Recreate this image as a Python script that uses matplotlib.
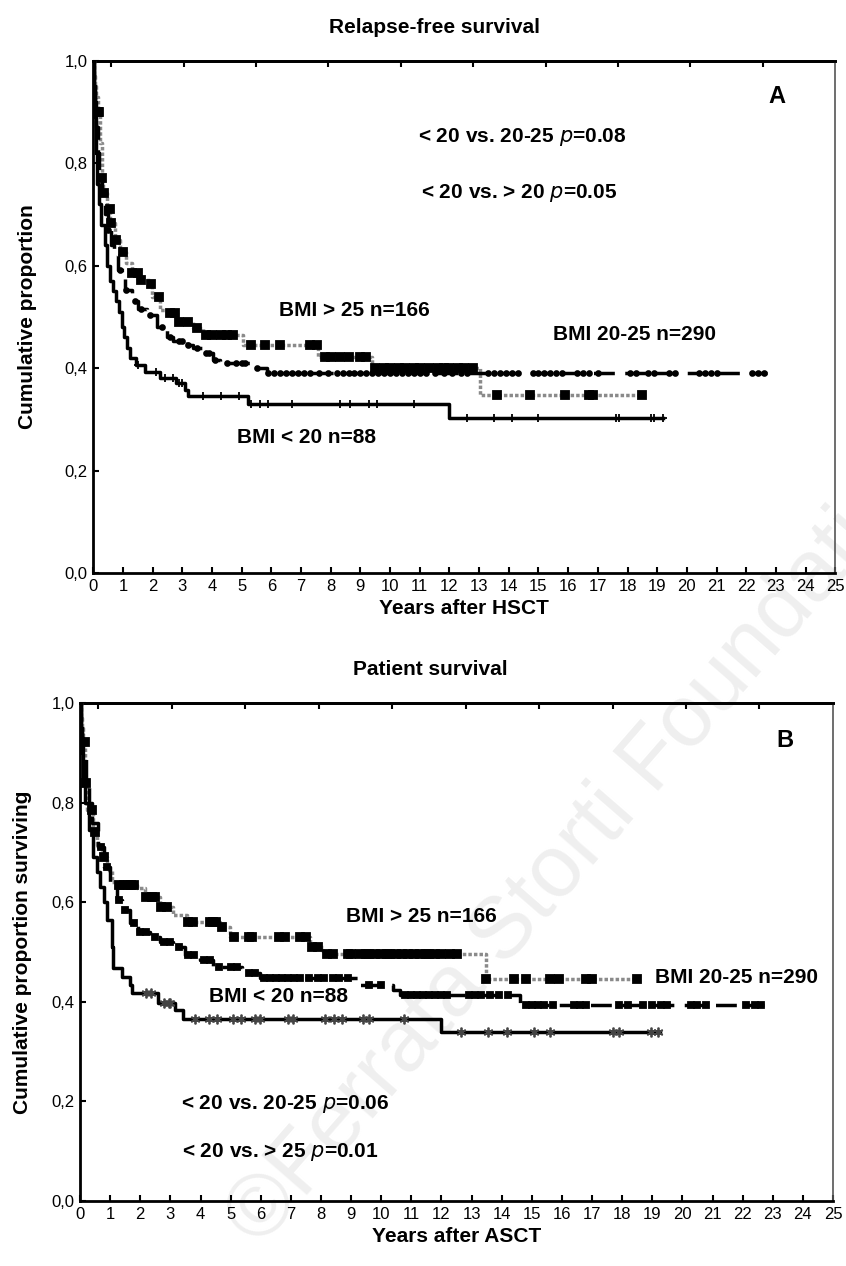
import numpy as np
import matplotlib
matplotlib.use("Agg")
import matplotlib.pyplot as plt

plt.rcParams['font.family'] = ['Liberation Sans', 'DejaVu Sans']

# ----- Relapse-free survival (panel A) -----
rfs_lt20_t = [0, 0.03, 0.06, 0.1, 0.13, 0.2, 0.25, 0.4, 0.45, 0.55, 0.65, 0.75, 0.85, 0.95,
              1.05, 1.15, 1.25, 1.45, 1.75, 2.25, 2.8, 3.1, 3.2, 5.2, 12.0]
rfs_lt20_s = [1.0, 0.95, 0.89, 0.82, 0.76, 0.72, 0.68, 0.64, 0.60, 0.57, 0.55, 0.53, 0.51, 0.48,
              0.46, 0.44, 0.42, 0.405, 0.393, 0.38, 0.37, 0.358, 0.345, 0.329, 0.302]
rfs_lt20_end = 19.2
rfs_lt20_cens = [1.5, 2.1, 2.4, 2.7, 2.9, 3.0, 3.7, 4.3, 4.9, 5.3, 5.6, 5.9, 6.7, 8.3, 8.65,
                 9.3, 9.55, 10.8, 12.6, 13.5, 14.1, 15.0, 17.6, 17.7, 18.8, 18.9, 19.2]

rfs_mid_t = [0, 0.03, 0.06, 0.1, 0.15, 0.2, 0.3, 0.4, 0.5, 0.6, 0.7, 0.84, 1.07, 1.29, 1.5, 1.8,
             2.14, 2.47, 2.7, 3.15, 3.37, 3.71, 4.04, 4.27, 5.28, 5.84]
rfs_mid_s = [1.0, 0.96, 0.92, 0.87, 0.82, 0.78, 0.74, 0.70, 0.67, 0.64, 0.62, 0.591, 0.552, 0.530,
             0.515, 0.504, 0.481, 0.461, 0.452, 0.445, 0.439, 0.429, 0.416, 0.409, 0.400, 0.391]
rfs_mid_end = 22.7
rfs_mid_cens = [0.5, 0.9, 1.1, 1.4, 1.6, 1.9, 2.3, 2.6, 2.9, 3.0, 3.2, 3.5, 3.8, 3.9, 4.1, 4.5,
                4.8, 5.0, 5.1, 5.5, 5.9, 6.1, 6.3, 6.5, 6.7, 6.9, 7.1, 7.3, 7.6, 7.9, 8.2, 8.4,
                8.6, 8.8, 9.0, 9.2, 9.4, 9.6, 9.8, 10.0, 10.2, 10.4, 10.6, 10.8, 11.0, 11.2,
                11.5, 11.8, 12.1, 12.4, 12.6, 13.3, 13.5, 13.7, 13.9, 14.1, 14.3, 14.8, 15.0,
                15.2, 15.4, 15.6, 15.8, 16.3, 16.5, 16.7, 17.0, 18.1, 18.3, 18.7, 18.9, 19.4,
                19.6, 20.4, 20.6, 20.8, 21.0, 22.2, 22.4, 22.6]

rfs_gt25_t = [0, 0.03, 0.06, 0.1, 0.17, 0.22, 0.28, 0.34, 0.45, 0.56, 0.73, 0.9, 1.1, 1.29, 1.52,
              1.91, 1.97, 2.25, 2.58, 2.81, 3.37, 3.71, 5.06, 7.58, 9.38, 13.03]
rfs_gt25_s = [1.0, 0.97, 0.95, 0.93, 0.90, 0.84, 0.77, 0.742, 0.71, 0.683, 0.65, 0.627, 0.605,
              0.585, 0.572, 0.565, 0.539, 0.513, 0.507, 0.490, 0.478, 0.464, 0.445, 0.421, 0.401,
              0.347]
rfs_gt25_end = 18.65
rfs_gt25_cens = [0.17, 0.2, 0.3, 0.35, 0.55, 0.6, 0.75, 1.0, 1.3, 1.5, 1.6, 1.95, 2.2, 2.6, 2.75,
                 2.9, 3.2, 3.5, 3.8, 4.0, 4.3, 4.5, 4.7, 5.3, 5.8, 6.3, 7.3, 7.55, 7.8, 8.0, 8.3,
                 8.6, 9.0, 9.2, 9.5, 9.8, 10.0, 10.3, 10.5, 10.8, 11.0, 11.3, 11.6, 11.8, 12.0,
                 12.3, 12.5, 12.8, 13.6, 14.7, 15.9, 16.7, 16.85, 18.5]

# ----- Patient survival (panel B) -----
os_lt20_t = [0, 0.03, 0.06, 0.1, 0.17, 0.3, 0.44, 0.55, 0.66, 0.78, 0.89, 1.05, 1.11, 1.38, 1.66,
             1.72, 2.6, 3.15, 3.43, 12.0]
os_lt20_s = [1.0, 0.95, 0.9, 0.85, 0.80, 0.745, 0.691, 0.66, 0.631, 0.60, 0.564, 0.511, 0.467,
             0.450, 0.434, 0.417, 0.397, 0.384, 0.366, 0.340]
os_lt20_end = 19.25
os_lt20_cens = [2.2, 2.35, 2.8, 2.95, 3.0, 3.82, 4.27, 4.54, 5.08, 5.35, 5.8, 5.98, 6.89, 7.07,
                8.15, 8.42, 8.69, 9.41, 9.59, 10.76, 12.65, 13.55, 14.18, 15.08, 15.62, 17.7,
                17.9, 18.96, 19.2]

os_mid_t = [0, 0.03, 0.06, 0.1, 0.2, 0.3, 0.4, 0.6, 0.8, 0.99, 1.22, 1.38, 1.66, 1.93, 2.32, 2.66,
            3.1, 3.49, 3.98, 4.43, 5.37, 5.98, 9.3, 10.4, 10.62, 14.6]
os_mid_s = [1.0, 0.96, 0.93, 0.90, 0.84, 0.80, 0.76, 0.71, 0.67, 0.638, 0.604, 0.584, 0.558,
            0.541, 0.531, 0.521, 0.511, 0.494, 0.484, 0.470, 0.457, 0.447, 0.434, 0.424, 0.414,
            0.393]
os_mid_end = 22.7
os_mid_cens = [0.7, 0.9, 1.3, 1.5, 1.8, 2.0, 2.2, 2.5, 2.8, 3.0, 3.3, 3.6, 3.8, 4.1, 4.3, 4.6,
               5.0, 5.2, 5.6, 5.8, 6.1, 6.3, 6.5, 6.7, 6.9, 7.1, 7.3, 7.6, 7.9, 8.1, 8.4, 8.6,
               8.9, 9.6, 10.0, 10.8, 11.0, 11.2, 11.4, 11.6, 11.8, 12.0, 12.2, 12.9, 13.1, 13.3,
               13.6, 13.9, 14.2, 14.8, 15.0, 15.2, 15.4, 15.7, 16.4, 16.6, 16.8, 17.9, 18.2,
               18.7, 19.0, 19.3, 19.5, 20.3, 20.5, 20.8, 22.1, 22.4, 22.6]

os_gt25_t = [0, 0.03, 0.06, 0.11, 0.17, 0.22, 0.44, 0.55, 0.72, 0.89, 1.05, 1.27, 1.88, 2.16,
             2.66, 3.1, 3.54, 4.65, 4.98, 7.64, 8.08, 13.48]
os_gt25_s = [1.0, 0.97, 0.95, 0.922, 0.839, 0.785, 0.742, 0.715, 0.691, 0.665, 0.641, 0.635,
             0.628, 0.611, 0.591, 0.574, 0.561, 0.551, 0.531, 0.511, 0.497, 0.445]
os_gt25_end = 18.5
os_gt25_cens = [0.15, 0.2, 0.4, 0.5, 0.8, 1.3, 1.45, 1.6, 1.7, 1.8, 2.2, 2.4, 2.5, 2.7, 2.9, 3.6,
                3.75, 4.3, 4.4, 4.5, 4.7, 5.1, 5.6, 5.7, 6.6, 6.8, 7.3, 7.5, 7.7, 7.9, 8.2, 8.4,
                8.9, 9.0, 9.3, 9.5, 9.6, 9.8, 10.0, 10.2, 10.3, 10.5, 10.7, 10.9, 11.1, 11.3,
                11.5, 11.6, 11.8, 12.0, 12.3, 12.5, 13.48, 14.4, 14.8, 15.6, 15.9, 16.8, 17.0,
                18.5]

x_ticks = list(range(0, 26))
y_ticks = [0.0, 0.2, 0.4, 0.6, 0.8, 1.0]
y_ticklabels = ['0,0', '0,2', '0,4', '0,6', '0,8', '1,0']

FS = 15


def km(ax, t, s, end, cens, ls, color, lw, marker, ms, mcolor):
    tt = list(t) + [end]
    ss = list(s) + [s[-1]]
    ax.step(tt, ss, where='post', ls=ls, color=color, lw=lw, zorder=3)
    c = np.array(cens)
    idx = np.searchsorted(np.array(t), c, side='right') - 1
    cy = np.array(s)[idx]
    ax.plot(c, cy, ls='none', marker=marker, ms=ms, color=mcolor, mew=1.3, zorder=4)


def setup(ax):
    ax.set_xlim(0, 25)
    ax.set_ylim(0, 1)
    ax.set_xticks(x_ticks)
    ax.set_yticks(y_ticks)
    ax.set_yticklabels(y_ticklabels)
    ax.tick_params(direction='in', length=4, width=1.5, labelsize=12, pad=4)
    ax.patch.set_alpha(0)
    for sp in ['left', 'bottom', 'top']:
        ax.spines[sp].set_linewidth(2)
    ax.spines['right'].set_linewidth(1.2)
    ax.spines['right'].set_color('#555555')
    top = ax.secondary_xaxis('top')
    top.set_xticks(np.arange(0.6, 25, 2.44))
    top.tick_params(direction='in', length=4, width=1.5, labeltop=False)
    top.spines['top'].set_linewidth(2)


fig = plt.figure(figsize=(8.46, 12.66), dpi=100)

# watermark, kept behind the axes
fig.text(0.69, 0.335, '\u00a9Ferrata Storti Foundation', fontsize=63, color='#efefef',
         rotation=49, ha='center', va='center', zorder=-1)

axA = fig.add_axes([0.1103, 0.5474, 0.877, 0.4047])
setup(axA)
km(axA, rfs_gt25_t, rfs_gt25_s, rfs_gt25_end, rfs_gt25_cens, (0, (1, 0.6)), '#8a8a8a', 2.5, 's', 5.5, 'black')
km(axA, rfs_mid_t, rfs_mid_s, rfs_mid_end, rfs_mid_cens, (0, (6, 3)), 'black', 2.5, 'o', 3.5, 'black')
km(axA, rfs_lt20_t, rfs_lt20_s, rfs_lt20_end, rfs_lt20_cens, '-', 'black', 2.5, '+', 6, 'black')
axA.set_title('Relapse-free survival', fontsize=FS, fontweight='bold', pad=20, x=0.46)
axA.set_xlabel('Years after HSCT', fontsize=FS, fontweight='bold', labelpad=4)
axA.set_ylabel('Cumulative proportion', fontsize=FS, fontweight='bold', labelpad=20)
axA.text(23.05, 0.93, 'A', fontsize=17, fontweight='bold', ha='center', va='center')
axA.text(14.45, 0.851, '< 20 vs. 20-25 $\\mathbf{\\it{p}}$=0.08', fontsize=FS, fontweight='bold', ha='center', va='center')
axA.text(14.35, 0.742, '< 20 vs. > 20 $\\mathbf{\\it{p}}$=0.05', fontsize=FS, fontweight='bold', ha='center', va='center')
axA.text(8.8, 0.513, 'BMI > 25 n=166', fontsize=FS, fontweight='bold', ha='center', va='center')
axA.text(18.25, 0.465, 'BMI 20-25 n=290', fontsize=FS, fontweight='bold', ha='center', va='center')
axA.text(7.2, 0.265, 'BMI < 20 n=88', fontsize=FS, fontweight='bold', ha='center', va='center')

axB = fig.add_axes([0.0946, 0.0513, 0.890, 0.3934])
setup(axB)
km(axB, os_gt25_t, os_gt25_s, os_gt25_end, os_gt25_cens, (0, (1, 0.6)), '#8a8a8a', 2.5, 's', 5.5, 'black')
km(axB, os_mid_t, os_mid_s, os_mid_end, os_mid_cens, (0, (6, 3)), 'black', 2.5, 's', 4, 'black')
km(axB, os_lt20_t, os_lt20_s, os_lt20_end, os_lt20_cens, '-', 'black', 2.5, (6, 2, 0), 7, '#444444')
axB.set_title('Patient survival', fontsize=FS, fontweight='bold', pad=20, x=0.465)
axB.set_xlabel('Years after ASCT', fontsize=FS, fontweight='bold', labelpad=4)
axB.set_ylabel('Cumulative proportion surviving', fontsize=FS, fontweight='bold', labelpad=14)
axB.text(23.4, 0.925, 'B', fontsize=17, fontweight='bold', ha='center', va='center')
axB.text(11.35, 0.571, 'BMI > 25 n=166', fontsize=FS, fontweight='bold', ha='center', va='center')
axB.text(21.8, 0.448, 'BMI 20-25 n=290', fontsize=FS, fontweight='bold', ha='center', va='center')
axB.text(6.6, 0.41, 'BMI < 20 n=88', fontsize=FS, fontweight='bold', ha='center', va='center')
axB.text(6.8, 0.194, '< 20 vs. 20-25 $\\mathbf{\\it{p}}$=0.06', fontsize=FS, fontweight='bold', ha='center', va='center')
axB.text(6.64, 0.098, '< 20 vs. > 25 $\\mathbf{\\it{p}}$=0.01', fontsize=FS, fontweight='bold', ha='center', va='center')

fig.savefig('out.png', dpi=100)
